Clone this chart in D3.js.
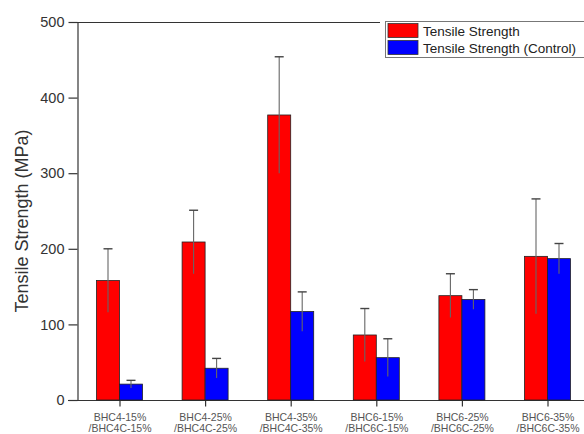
<!DOCTYPE html>
<html>
<head>
<meta charset="utf-8">
<script src="https://cdn.jsdelivr.net/npm/d3@7"></script>
<style>
  body { margin: 0; background: #fff; }
  svg { display: block; font-family: Arial, 'Liberation Sans', sans-serif; }
</style>
</head>
<body>
<svg id="chart" width="584" height="434"></svg>
<script>
const categories = ['BHC4-15%', 'BHC4-25%', 'BHC4-35%', 'BHC6-15%', 'BHC6-25%', 'BHC6-35%']
const subLabels = ['/BHC4C-15%', '/BHC4C-25%', '/BHC4C-35%', '/BHC6C-15%', '/BHC6C-25%', '/BHC6C-35%']
const strength = [158, 209, 377, 86, 138, 190]
const strengthErr = [42, 42, 77, 35, 29, 76]
const control = [21, 42, 117, 56, 133, 187]
const controlErr = [5, 13, 26, 25, 13, 20]
const yTicks = [0, 100, 200, 300, 400, 500]
const seriesNames = ['Tensile Strength', 'Tensile Strength (Control)']
const colors = ['#ff0000', '#0000ff']

const plot = { left: 77, top: 22, bottom: 400 }
const barW = 23

const svg = d3.select('#chart')
const y = d3.scaleLinear().domain([0, 500]).range([plot.bottom, plot.top])
const x = d3.scalePoint().domain(categories).range([119.5, 547.5])

// frame lines
svg.append('line').attr('x1', 68).attr('x2', 584).attr('y1', plot.bottom + 0.5).attr('y2', plot.bottom + 0.5)
  .attr('stroke', '#333').attr('stroke-width', 1.2)
svg.append('line').attr('x1', plot.left).attr('x2', 380).attr('y1', plot.top + 0.5).attr('y2', plot.top + 0.5)
  .attr('stroke', '#333').attr('stroke-width', 1.2)

// y axis
const yAxis = svg.append('g').attr('transform', `translate(${plot.left + 0.5},0)`)
  .call(d3.axisLeft(y).tickValues(yTicks).tickSize(9).tickSizeOuter(0).tickPadding(4))
yAxis.select('.domain').attr('stroke', '#333').attr('stroke-width', 1.2)
yAxis.selectAll('.tick line').attr('stroke', '#333').attr('stroke-width', 1.2)
yAxis.selectAll('.tick text').attr('font-size', 14.5).attr('fill', '#333')
  .attr('font-family', 'Arial, Liberation Sans, sans-serif')

svg.append('text')
  .attr('transform', 'translate(28,221) rotate(-90)')
  .attr('text-anchor', 'middle')
  .attr('font-size', 18).attr('fill', '#333')
  .text('Tensile Strength (MPa)')

// x axis ticks + 2-line labels
const xAxis = svg.append('g').attr('transform', `translate(0,${plot.bottom + 0.5})`)
  .call(d3.axisBottom(x).tickSize(6).tickSizeOuter(0).tickFormat(''))
xAxis.select('.domain').remove()
xAxis.selectAll('.tick line').attr('stroke', '#333').attr('stroke-width', 1.2)
xAxis.selectAll('.tick').append('text')
  .attr('fill', '#555').attr('font-size', 10.5).attr('text-anchor', 'middle')
  .attr('font-family', 'Arial, Liberation Sans, sans-serif')
  .each(function (d, i) {
    const t = d3.select(this)
    t.append('tspan').attr('x', 0).attr('y', 20).text(d)
    t.append('tspan').attr('x', 0).attr('y', 31).text(subLabels[i])
  })

// bars
const series = [
  { vals: strength, errs: strengthErr, dx: -barW / 2 },
  { vals: control, errs: controlErr, dx: barW / 2 }
]
series.forEach((s, si) => {
  const g = svg.append('g')
  g.selectAll('rect').data(categories).join('rect')
    .attr('x', (d) => x(d) + s.dx - barW / 2)
    .attr('y', (d, i) => y(s.vals[i]))
    .attr('width', barW)
    .attr('height', (d, i) => y(0) - y(s.vals[i]))
    .attr('fill', colors[si])
    .attr('stroke', '#222').attr('stroke-width', 0.8)

  const eg = svg.append('g').attr('stroke', '#666').attr('stroke-width', 1.1)
  eg.selectAll('line.v').data(categories).join('line').attr('class', 'v')
    .attr('x1', (d) => x(d) + s.dx).attr('x2', (d) => x(d) + s.dx)
    .attr('y1', (d, i) => y(s.vals[i] + s.errs[i]))
    .attr('y2', (d, i) => y(s.vals[i] - s.errs[i]))
  eg.selectAll('line.cap').data(categories).join('line').attr('class', 'cap')
    .attr('x1', (d) => x(d) + s.dx - 4.5).attr('x2', (d) => x(d) + s.dx + 4.5)
    .attr('y1', (d, i) => y(s.vals[i] + s.errs[i]))
    .attr('y2', (d, i) => y(s.vals[i] + s.errs[i]))
    .attr('stroke', '#444').attr('stroke-width', 1.4)
})

// legend
const lg = svg.append('g').attr('transform', 'translate(385,21)')
lg.append('rect').attr('x', 0.5).attr('y', 0.5).attr('width', 205).attr('height', 36)
  .attr('fill', '#fff').attr('stroke', '#777').attr('stroke-width', 1)
seriesNames.forEach((name, i) => {
  lg.append('rect').attr('x', 3).attr('y', 2.5 + i * 17).attr('width', 30).attr('height', 14)
    .attr('fill', colors[i]).attr('stroke', '#333').attr('stroke-width', 0.8)
  lg.append('text').attr('x', 38).attr('y', 14.5 + i * 17)
    .attr('font-size', 13.5).attr('fill', '#222').text(name)
})
</script>
</body>
</html>
